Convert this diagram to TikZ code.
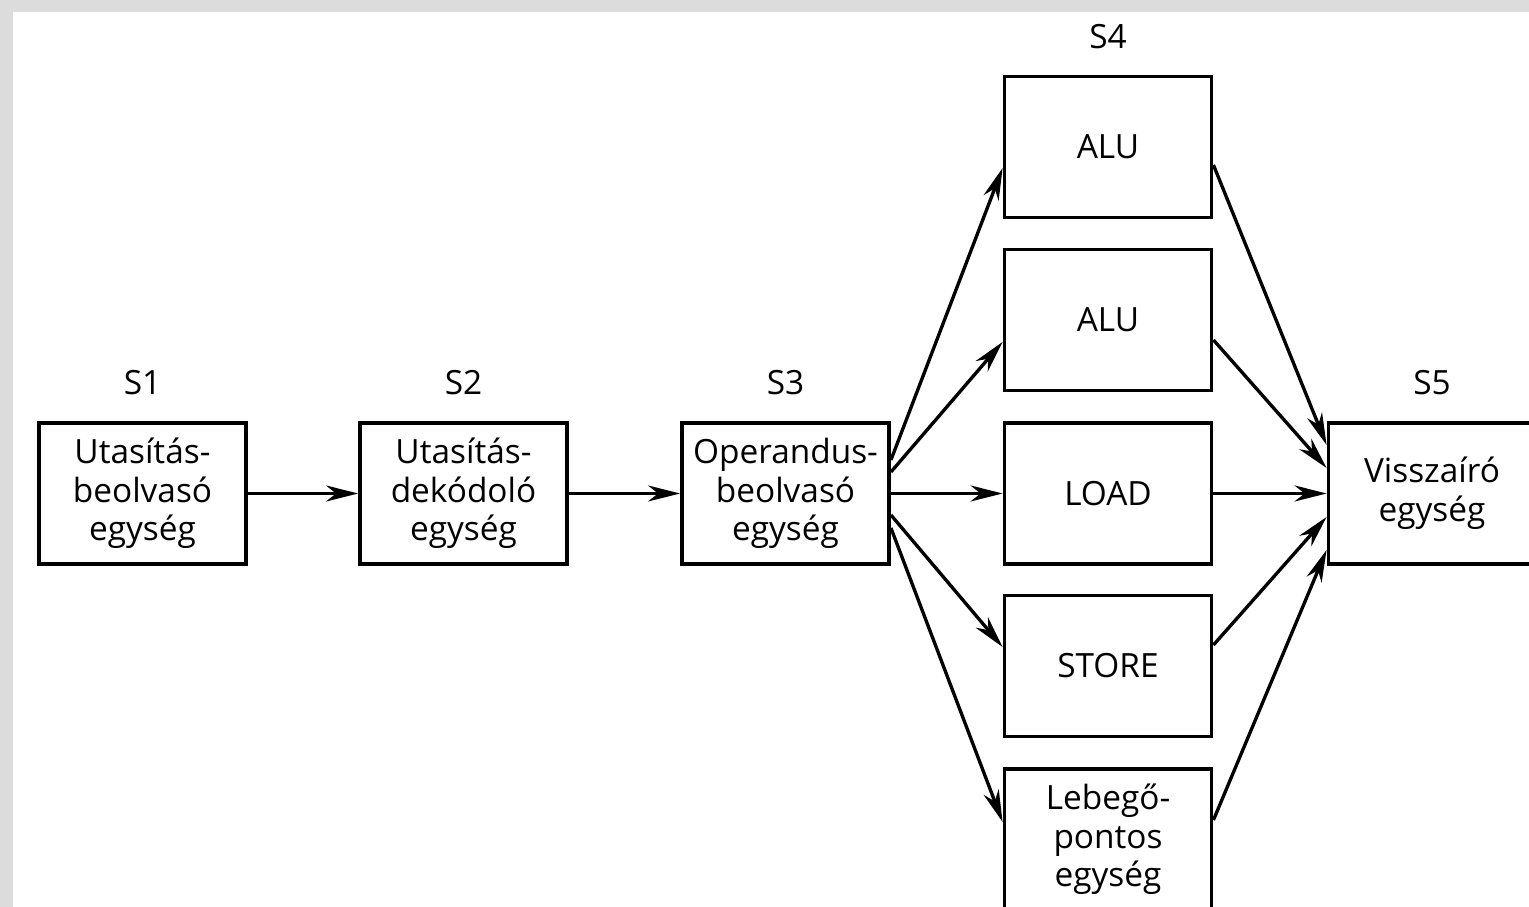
\documentclass[tikz,border=0pt]{standalone}
\usepackage{fontspec}
\setmainfont{Open Sans}
\usetikzlibrary{arrows.meta,positioning}
\definecolor{pagegray}{HTML}{DCDCDC}

\begin{document}
\begin{tikzpicture}[
    unit/.style={rectangle, draw, line width=2.2pt, minimum width=4.14cm, minimum height=2.82cm, align=center, font=\fontsize{19}{22}\selectfont},
    stage/.style={font=\fontsize{19}{22}\selectfont},
    arrow/.style={-{Stealth[length=0.64cm,width=0.32cm,inset=0.2cm]}, line width=1.9pt}
]

% Page
\clip (0,0) rectangle (30.58,18.14);
\fill[pagegray] (0,0) rectangle (30.58,18.14);
\fill[white] (0.26,0) rectangle (30.58,17.9);

% Pipeline stages
\node[unit] (fetch) at (2.85,8.27) {Utasítás-\\beolvasó\\egység};
\node[unit] (decode) at (9.27,8.27) {Utasítás-\\dekódoló\\egység};
\node[unit] (operand) at (15.71,8.27) {Operandus-\\beolvasó\\egység};
\node[unit] (write) at (28.64,8.27) {Visszaíró\\egység};

% Functional units
\node[unit] (aluA) at (22.16,15.2) {ALU};
\node[unit] (aluB) at (22.16,11.74) {ALU};
\node[unit] (load) at (22.16,8.27) {LOAD};
\node[unit] (store) at (22.16,4.82) {STORE};
\node[unit] (float) at (22.16,1.35) {Lebegő-\\pontos\\egység};

% Stage labels
\node[stage] (s1) at (2.85,10.48) {S1};
\node[stage] (s2) at (9.27,10.48) {S2};
\node[stage] (s3) at (15.71,10.48) {S3};
\node[stage] (s4) at (22.16,17.4) {S4};
\node[stage] (s5) at (28.64,10.48) {S5};

% Arrows
\draw[arrow] (fetch) -- (decode);
\draw[arrow] (decode) -- (operand);
\draw[arrow] ([yshift=0.67cm]operand.east) -- ([yshift=-0.42cm]aluA.west);
\draw[arrow] ([yshift=0.43cm]operand.east) -- ([yshift=-0.44cm]aluB.west);
\draw[arrow] (operand) -- (load);
\draw[arrow] ([yshift=-0.43cm]operand.east) -- ([yshift=0.38cm]store.west);
\draw[arrow] ([yshift=-0.69cm]operand.east) -- ([yshift=0.35cm]float.west);
\draw[arrow] ([yshift=-0.36cm]aluA.east) -- ([yshift=0.97cm]write.west);
\draw[arrow] ([yshift=-0.4cm]aluB.east) -- ([yshift=0.51cm]write.west);
\draw[arrow] (load) -- (write);
\draw[arrow] ([yshift=0.42cm]store.east) -- ([yshift=-0.47cm]write.west);
\draw[arrow] ([yshift=0.39cm]float.east) -- ([yshift=-1.13cm]write.west);

\end{tikzpicture}
\end{document}
